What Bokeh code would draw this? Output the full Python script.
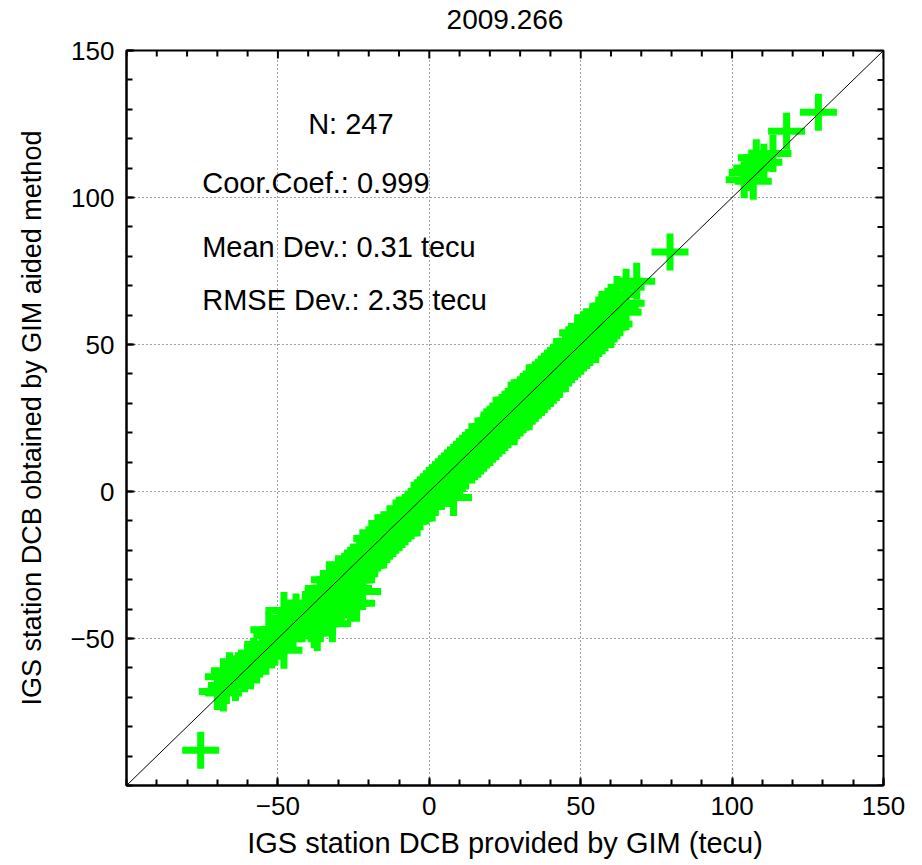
from bokeh.plotting import figure
from bokeh.models import FixedTicker, Label, Slope, ColumnDataSource, Range1d, LinearAxis
from bokeh.embed import file_html
from bokeh.resources import INLINE

title_text = "2009.266"
x_label = "IGS station DCB provided by GIM (tecu)"
y_label = "IGS station DCB obtained by GIM aided method"
stat_lines = ["N: 247", "Coor.Coef.: 0.999", "Mean Dev.: 0.31 tecu", "RMSE Dev.: 2.35 tecu"]
x_min, x_max = -100, 150
y_min, y_max = -100, 150
major_ticks = [-50, 0, 50, 100, 150]
minor_ticks = [-100, -90, -80, -70, -60, -50, -40, -30, -20, -10, 0, 10, 20, 30, 40,
               50, 60, 70, 80, 90, 100, 110, 120, 130, 140, 150]

# station DCBs (tecu): x = provided by GIM, y = obtained by GIM aided method
upper_x = [128.5, 118, 113.5, 108, 110.5, 106.5, 105, 104, 107, 79.5, 68.5, 65]
upper_y = [129, 122.5, 115, 113.5, 112, 110, 108.5, 106, 105.5, 81.5, 71.5, 69.5]

hi_x = [64, 62, 61, 60, 59, 58, 57, 56, 55, 55, 54, 53, 52, 51, 50, 50, 49, 48, 47, 46,
        45, 44, 43, 42, 56, 58, 53, 60, 63, 57, 61, 52, 48, 65]
hi_y = [61, 67, 57, 61, 63, 54, 61, 52, 58, 50, 57, 53, 48, 55, 46, 53, 54, 45, 51, 42,
        48, 40, 46, 38, 60, 60, 49, 56, 62, 53, 64, 56, 50, 64]

mid_x = [41, 40, 39, 38, 37, 36, 35, 34, 33, 32, 31, 30, 29, 28, 27, 26, 25, 24, 23, 22,
         21, 20, 38, 35, 32, 30, 28, 26, 24, 22, 34, 39, 36, 31, 27, 43, 37, 29, 25, 33]
mid_y = [44, 35, 42, 33, 40, 31, 38, 29, 37, 27, 34, 25, 32, 23, 31, 21, 28, 19, 26, 18,
         24, 15, 40, 30, 34, 32, 22, 28, 26, 17, 37, 35, 38, 27, 24, 39, 32, 26, 23, 30]

low_x = [19, 18, 17, 16, 15, 14, 13, 12, 11, 10, 9, 8, 7, 6, 5, 4, 3, 2, 1, 0,
         8, 10, 5, 3, 0, 12, 15, 18, 7, 2, 13, 16, 4, 11, 6, 9, 14, 1]
low_y = [22, 13, 19, 11, 17, 9, 15, 7, 13, 5, 11, 4, 9, 1, 7, 0, 5, -2, 3, -4,
         -2, 12, 2, 0, 2, 14, 11, 20, 5, 4, 10, 17, 6, 8, 8, 7, 14, -1]

neg_x = [-1, -2, -3, -4, -5, -6, -7, -8, -9, -10, -11, -12, -13, -14, -15, -16, -17, -18,
         -19, -20, -5, -10, -15, -2, -7, -12, -17, -19, -14, -9, -4, -11, -16]
neg_y = [0, -5, -2, -9, -3, -10, -6, -12, -8, -14, -9, -16, -11, -18, -13, -20, -14, -22,
         -16, -25, -7, -10, -17, -1, -9, -12, -19, -21, -14, -11, -5, -13, -16]

clus_x = [-21, -22, -23, -24, -25, -26, -27, -28, -29, -30, -31, -32, -33, -34, -35, -36,
          -37, -38, -39, -40, -22, -24, -26, -32, -37, -35, -30, -28, -33, -36, -34, -38,
          -40, -27, -30, -35, -23, -31, -25, -29, -36, -39, -26, -33, -21, -28, -34, -38]
clus_y = [-20, -26, -22, -30, -24, -33, -26, -36, -29, -39, -30, -42, -33, -43, -36, -45,
          -38, -47, -40, -44, -34, -38, -38, -45, -48, -43, -34, -30, -40, -40, -37, -42,
          -39, -32, -28, -33, -28, -36, -33, -34, -35, -45, -28, -30, -25, -31, -34, -38]

tail_x = [-41, -42, -44, -45, -46, -47, -48, -48, -50, -51, -52, -53, -54, -55, -56, -58,
          -59, -60, -61, -63, -64, -65, -66, -67, -68, -70, -68, -75.5, -43, -57, -62]
tail_y = [-42, -45, -41, -47, -43, -48, -40.5, -54, -50, -53, -49, -47, -56, -52, -57, -56,
          -61, -58, -62, -61, -65, -62, -61, -66, -63, -68, -68.5, -88, -45, -59, -60]

gim_dcb = upper_x + hi_x + mid_x + low_x + neg_x + clus_x + tail_x
aided_dcb = upper_y + hi_y + mid_y + low_y + neg_y + clus_y + tail_y

FONT = "Liberation Sans"
FRAME_W, FRAME_H = 757, 735

p = figure(width=922, height=865,
           x_range=Range1d(x_min, x_max), y_range=Range1d(y_min, y_max),
           output_backend="svg", toolbar_location=None,
           min_border_left=126, min_border_right=39,
           min_border_top=50, min_border_bottom=80)

p.background_fill_color = "white"
p.border_fill_color = "white"
p.outline_line_color = "black"
p.outline_line_width = 2

ticker = FixedTicker(ticks=major_ticks, minor_ticks=minor_ticks)

for ax in (p.xaxis[0], p.yaxis[0]):
    ax.ticker = ticker
    ax.axis_line_color = "black"
    ax.axis_line_width = 2
    ax.major_tick_in = 8
    ax.major_tick_out = 0
    ax.minor_tick_in = 6
    ax.minor_tick_out = 0
    ax.major_tick_line_color = "black"
    ax.minor_tick_line_color = "black"
    ax.major_tick_line_width = 2
    ax.minor_tick_line_width = 2
    ax.major_label_text_font = FONT
    ax.major_label_text_font_size = "26px"
    ax.major_label_text_color = "black"
    ax.axis_label_text_font = FONT
    ax.axis_label_text_font_style = "normal"
    ax.axis_label_text_color = "black"

p.xaxis[0].axis_label = x_label
p.xaxis[0].axis_label_text_font_size = "29px"
p.xaxis[0].major_label_standoff = 11
p.xaxis[0].axis_label_standoff = 9
p.yaxis[0].axis_label = y_label
p.yaxis[0].axis_label_text_font_size = "27px"
p.yaxis[0].major_label_standoff = 12
p.yaxis[0].axis_label_standoff = 20

# chart title, centred over the frame, carried by a tick-less axis above it
title_axis = LinearAxis(ticker=FixedTicker(ticks=[], minor_ticks=[]),
                        axis_label=title_text,
                        axis_line_color=None,
                        major_tick_line_color=None, minor_tick_line_color=None,
                        major_tick_in=0, major_tick_out=0,
                        minor_tick_in=0, minor_tick_out=0,
                        major_label_standoff=0,
                        axis_label_standoff=22,
                        axis_label_text_font=FONT, axis_label_text_font_size="28px",
                        axis_label_text_font_style="normal",
                        axis_label_text_color="black")
p.add_layout(title_axis, "above")

# mirrored inward ticks on the top and right edges (tick lengths in px -> data)
px_y = (y_max - y_min) / FRAME_H
px_x = (x_max - x_min) / FRAME_W
top_x0, top_y0, top_x1, top_y1 = [], [], [], []
for t in minor_ticks:
    ln = (8 if t in major_ticks else 6) * px_y
    top_x0.append(t); top_x1.append(t); top_y0.append(y_max); top_y1.append(y_max - ln)
right_x0, right_y0, right_x1, right_y1 = [], [], [], []
for t in minor_ticks:
    ln = (8 if t in major_ticks else 6) * px_x
    right_y0.append(t); right_y1.append(t); right_x0.append(x_max); right_x1.append(x_max - ln)
p.segment(top_x0, top_y0, top_x1, top_y1, line_color="black", line_width=2)
p.segment(right_x0, right_y0, right_x1, right_y1, line_color="black", line_width=2)

for g in (p.xgrid[0], p.ygrid[0]):
    g.ticker = ticker
    g.grid_line_color = "#444444"
    g.grid_line_dash = "1 3"
    g.grid_line_width = 1

p.add_layout(Slope(gradient=1, y_intercept=0, line_color="black", line_width=1))

src = ColumnDataSource(data=dict(x=gim_dcb, y=aided_dcb))
p.scatter("x", "y", source=src, marker="cross", size=37, line_width=7,
          line_color="#00ff00", fill_color="#00ff00")

stat_pos = [(-40, 125), (-75, 105), (-75, 83), (-75, 65)]
for txt, (sx, sy) in zip(stat_lines, stat_pos):
    p.add_layout(Label(x=sx, y=sy, text=txt, text_font=FONT, text_font_size="29px",
                       text_baseline="middle", text_align="left", text_color="black"))

open("out.html", "w").write(file_html(p, INLINE))
